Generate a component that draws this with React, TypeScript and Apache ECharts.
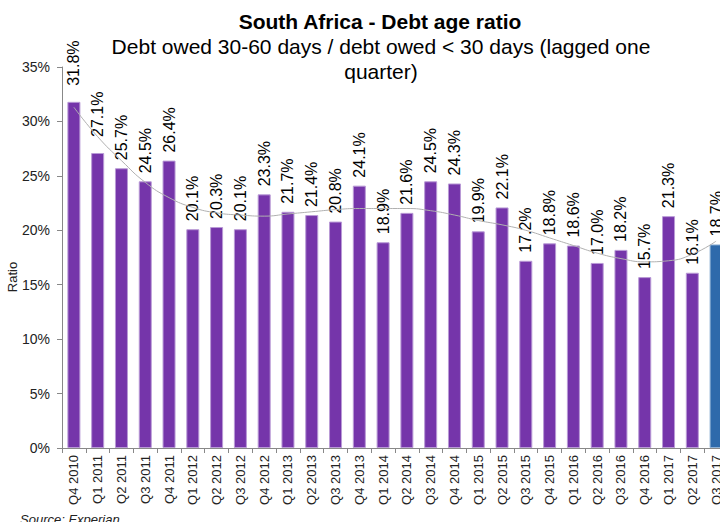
import React, { useEffect, useRef } from "react";
import * as echarts from "echarts";

const categories: string[] = [
  "Q4 2010",
  "Q1 2011", "Q2 2011", "Q3 2011", "Q4 2011",
  "Q1 2012", "Q2 2012", "Q3 2012", "Q4 2012",
  "Q1 2013", "Q2 2013", "Q3 2013", "Q4 2013",
  "Q1 2014", "Q2 2014", "Q3 2014", "Q4 2014",
  "Q1 2015", "Q2 2015", "Q3 2015", "Q4 2015",
  "Q1 2016", "Q2 2016", "Q3 2016", "Q4 2016",
  "Q1 2017", "Q2 2017", "Q3 2017",
];

const ratioValues: number[] = [
  31.8,
  27.1, 25.7, 24.5, 26.4,
  20.1, 20.3, 20.1, 23.3,
  21.7, 21.4, 20.8, 24.1,
  18.9, 21.6, 24.5, 24.3,
  19.9, 22.1, 17.2, 18.8,
  18.6, 17.0, 18.2, 15.7,
  21.3, 16.1, 18.7,
];

// Trend line at each category
const trendValues: number[] = [
  31.3,
  28.6, 26.4, 24.4, 23.0,
  22.1, 21.6, 21.4, 21.3,
  21.5, 21.7, 21.9, 22.0,
  22.0, 22.0, 21.8, 21.4,
  20.9, 20.5, 20.0, 19.3,
  18.6, 17.9, 17.4, 17.1,
  17.2, 17.8, 19.0,
];

const yTicks = { min: 0, max: 35, interval: 5 };

const PURPLE = "#7535AA";
const BLUE = "#2E6AAB";
const FONT = '"Liberation Sans", Arial, sans-serif';

export default function App() {
  const ref = useRef<HTMLDivElement>(null);

  useEffect(() => {
    if (!ref.current) return;
    const chart = echarts.init(ref.current, null, { renderer: "svg" });
    const last = ratioValues.length - 1;
    chart.setOption({
      animation: false,
      backgroundColor: "#ffffff",
      textStyle: { fontFamily: FONT },
      graphic: [
        {
          type: "text",
          x: 380,
          y: 21,
          style: {
            text: "South Africa - Debt age ratio",
            align: "center",
            verticalAlign: "middle",
            font: `bold 21px ${FONT}`,
            fill: "#000",
          },
        },
        {
          type: "text",
          x: 381,
          y: 46,
          style: {
            text: "Debt owed 30-60 days / debt owed < 30 days (lagged one",
            align: "center",
            verticalAlign: "middle",
            font: `21px ${FONT}`,
            fill: "#000",
          },
        },
        {
          type: "text",
          x: 381,
          y: 71,
          style: {
            text: "quarter)",
            align: "center",
            verticalAlign: "middle",
            font: `21px ${FONT}`,
            fill: "#000",
          },
        },
        {
          type: "text",
          x: 12,
          y: 277,
          rotation: Math.PI / 2,
          style: {
            text: "Ratio",
            align: "center",
            verticalAlign: "middle",
            font: `13px ${FONT}`,
            fill: "#222",
          },
        },
        {
          type: "text",
          x: 20,
          y: 513,
          style: {
            text: "Source: Experian",
            align: "left",
            verticalAlign: "top",
            font: `italic 13px ${FONT}`,
            fill: "#222",
          },
        },
      ],
      grid: {
        left: 62,
        top: 67,
        width: 666,
        bottom: 74,
        outerBoundsMode: "none",
        containLabel: false,
      },
      xAxis: {
        type: "category",
        data: categories,
        boundaryGap: true,
        axisLine: { lineStyle: { color: "#888", width: 1 } },
        axisTick: { show: true, length: 5, lineStyle: { color: "#888" } },
        axisLabel: {
          rotate: 90,
          interval: 0,
          margin: 7,
          fontSize: 13,
          color: "#222",
          fontFamily: FONT,
        },
      },
      yAxis: {
        type: "value",
        min: yTicks.min,
        max: yTicks.max,
        interval: yTicks.interval,
        splitLine: { show: false },
        axisLine: { show: true, lineStyle: { color: "#888", width: 1 } },
        axisTick: { show: true, length: 5, lineStyle: { color: "#888" } },
        axisLabel: {
          formatter: "{value}%",
          fontSize: 14,
          color: "#222",
          margin: 12,
          fontFamily: FONT,
        },
      },
      series: [
        {
          type: "bar",
          data: ratioValues.map((v, i) => ({
            value: v,
            itemStyle: {
              color: i === last ? BLUE : PURPLE,
              borderColor: i === last ? "#8FB2D6" : "#B99AD6",
              borderWidth: 1,
            },
            label: i <= 1 ? { distance: 16 } : undefined,
          })),
          barWidth: 13,
          label: {
            show: true,
            position: "top",
            rotate: 90,
            align: "left",
            verticalAlign: "middle",
            distance: 8,
            fontSize: 16,
            color: "#000",
            fontFamily: FONT,
            formatter: (p: any) => `${Number(p.value).toFixed(1)}%`,
          },
          z: 2,
        },
        {
          type: "line",
          data: trendValues,
          smooth: true,
          symbol: "none",
          lineStyle: { color: "#B0B0B0", width: 1 },
          z: 3,
          silent: true,
        },
      ],
    });
    return () => chart.dispose();
  }, []);

  return (
    <div
      ref={ref}
      style={{ width: 720, height: 522, position: "absolute", left: 0, top: 0 }}
    />
  );
}
